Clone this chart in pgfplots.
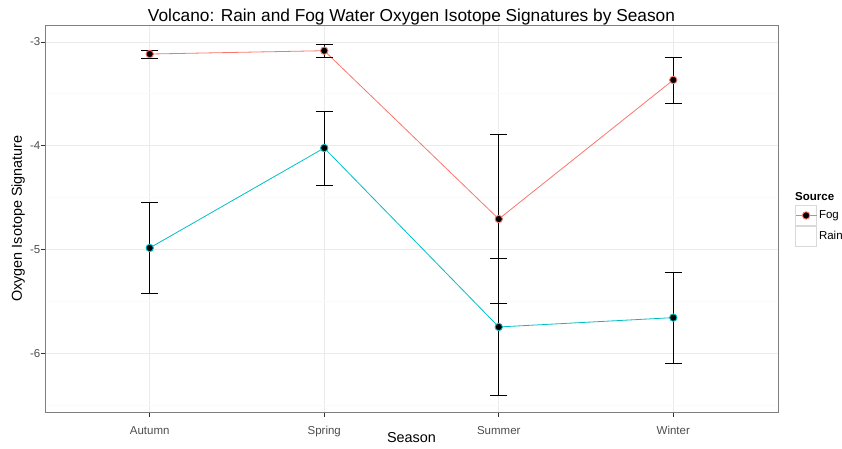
\documentclass[border=0pt]{standalone}
\usepackage{pgfplots}
\pgfplotsset{compat=1.18}
\usepackage{fontspec}
\setmainfont{Liberation Sans}
\definecolor{fogc}{HTML}{F8766D}
\definecolor{rainc}{HTML}{00BFC4}
\definecolor{gridmaj}{HTML}{EBEBEB}
\definecolor{gridmin}{HTML}{FAFAFA}
\definecolor{border}{HTML}{7F7F7F}
\definecolor{ticktext}{HTML}{4D4D4D}
\definecolor{keyedge}{HTML}{D9D9D9}

\begin{document}
\begin{tikzpicture}
\useasboundingbox (-45pt,-37pt) rectangle (797pt,412pt);
\begin{axis}[
  at={(0pt,0pt)}, anchor=south west,
  scale only axis, width=733pt, height=387pt,
  xmin=0.4, xmax=4.6, ymin=-6.568, ymax=-2.836,
  xtick={1,2,3,4}, xticklabels={Autumn,Spring,Summer,Winter},
  ytick={-6,-5,-4,-3}, yticklabels={-6,-5,-4,-3},
  minor ytick={-6.5,-5.5,-4.5,-3.5},
  xtick pos=lower, ytick pos=left,
  grid=both,
  major grid style={gridmaj, line width=0.8pt},
  minor grid style={gridmin, line width=0.8pt},
  axis line style={border, line width=0.8pt},
  tick align=outside, major tick length=4.5pt, minor tick length=0pt,
  tick style={black!80, line width=0.6pt},
  ticklabel style={font=\fontsize{11.5}{12}\selectfont, text=ticktext},
  xticklabel style={anchor=base, yshift=-18pt},
  yticklabel style={anchor=east, inner sep=0pt},
  xlabel={Season}, ylabel={Oxygen Isotope Signature},
  label style={font=\fontsize{14.4}{15}\selectfont},
  xlabel style={at={(axis description cs:0.5,-0.0801)}, anchor=base},
  ylabel style={at={(axis description cs:-0.0314,0.5)}, anchor=base},
  clip=false,
  legend cell align=left,
  legend style={at={(rel axis cs:1.0232,0.535)}, anchor=north west,
    draw=none, fill=none, inner sep=0pt, row sep=0pt, column sep=2pt,
    font=\fontsize{11.5}{12}\selectfont, nodes={inner sep=0pt}},
]

% Fog
\addplot[fogc, line width=0.8pt, mark=*, mark size=3.7pt,
  mark options={fill=black, draw=fogc, line width=0.9pt},
  legend image code/.code={
    \draw[keyedge, fill=white, line width=0.6pt] (0pt,-10pt) rectangle (21pt,10pt);
    \draw[fogc, line width=0.8pt] (0pt,0pt) -- (21pt,0pt);
    \filldraw[fill=black, draw=fogc, line width=0.9pt] (10.5pt,0pt) circle (3.7pt);},
  error bars/.cd, y dir=both, y explicit,
  error bar style={black, line width=0.7pt, solid},
  error mark options={black, line width=0.7pt, mark size=8.7pt, rotate=90}]
coordinates {
  (1,-3.116) +- (0,0.040)
  (2,-3.084) +- (0,0.063)
  (3,-4.707) +- (0,0.815)
  (4,-3.366) +- (0,0.222)
};
\addlegendentry{Fog}

% Rain
\addplot[rainc, line width=0.8pt, mark=*, mark size=3.7pt,
  mark options={fill=black, draw=rainc, line width=0.9pt},
  legend image code/.code={
    \draw[keyedge, fill=white, line width=0.6pt] (0pt,-10pt) rectangle (21pt,10pt);},
  error bars/.cd, y dir=both, y explicit,
  error bar style={black, line width=0.7pt, solid},
  error mark options={black, line width=0.7pt, mark size=8.7pt, rotate=90}]
coordinates {
  (1,-4.986) +- (0,0.437)
  (2,-4.022) +- (0,0.357)
  (3,-5.748) +- (0,0.660)
  (4,-5.658) +- (0,0.438)
};
\addlegendentry{Rain}

\node[anchor=west, inner sep=0pt, font=\fontsize{11.5}{12}\selectfont\bfseries]
  at (rel axis cs:1.0232,0.556) {Source};
\node[anchor=base, inner sep=0pt, font=\fontsize{17.3}{18}\selectfont]
  at (rel axis cs:0.5,1.009) {Volcano: Rain and Fog Water Oxygen Isotope Signatures by Season};
\end{axis}
\end{tikzpicture}
\end{document}
